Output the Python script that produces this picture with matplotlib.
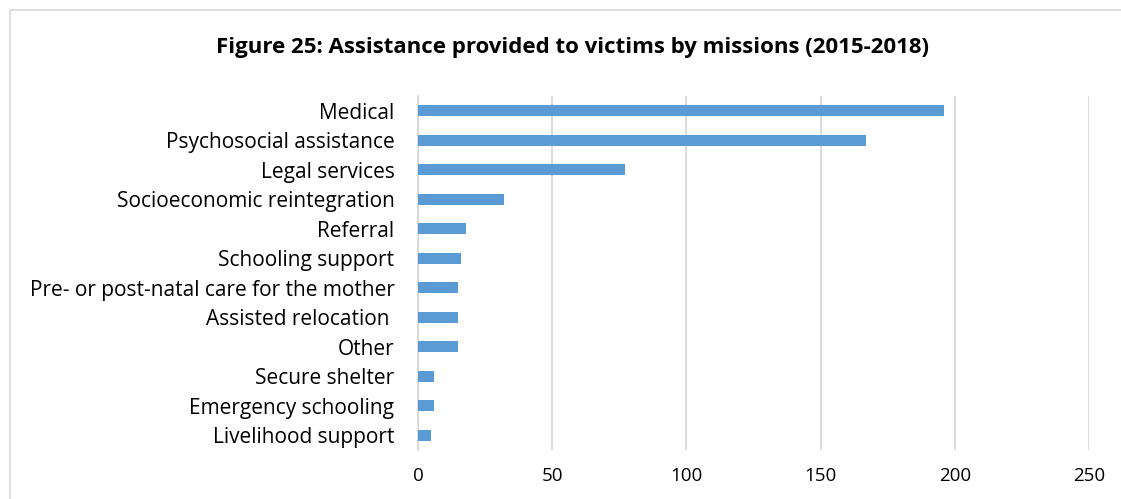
import matplotlib
matplotlib.use("Agg")
import matplotlib.pyplot as plt
from matplotlib.patches import Rectangle

categories = [
    "Medical",
    "Psychosocial assistance",
    "Legal services",
    "Socioeconomic reintegration",
    "Referral",
    "Schooling support",
    "Pre- or post-natal care for the mother",
    "Assisted relocation ",
    "Other",
    "Secure shelter",
    "Emergency schooling",
    "Livelihood support",
]
values = [196, 167, 77, 32, 18, 16, 15, 15, 15, 6, 6, 5]
xticks = [0, 50, 100, 150, 200, 250]
title = "Figure 25: Assistance provided to victims by missions (2015-2018)"

plt.rcParams['font.family'] = ['Open Sans', 'DejaVu Sans']

W, H = 1121, 499
fig = plt.figure(figsize=(W / 100, H / 100), dpi=100)
ax = fig.add_axes([418 / W, 1 - 450 / H, (1089 - 418) / W, (450 - 96) / H])

ypos = list(range(len(categories)))
ax.barh(ypos, values, height=0.36, color="#5B9BD5", zorder=3)
ax.set_ylim(len(categories) - 0.5, -0.5)
ax.set_xlim(0, 250)
ax.set_xticks(xticks)
ax.set_xticklabels([str(t) for t in xticks], fontsize=13.5)
ax.set_yticks(ypos)
ax.set_yticklabels(categories, fontsize=15)
ax.tick_params(axis='both', length=0, colors='#000000')
ax.tick_params(axis='x', pad=12)
ax.tick_params(axis='y', pad=17)
ax.grid(axis='x', color='#D9D9D9', linewidth=1.3, zorder=0)
for s in ['top', 'right', 'bottom']:
    ax.spines[s].set_visible(False)
ax.spines['left'].set_color('#D9D9D9')
ax.spines['left'].set_linewidth(1.3)
ax.spines['left'].set_zorder(1)

fig.text(572 / W, 1 - 47 / H, title, ha='center', va='center',
         fontsize=16, fontweight='bold')

fig.patches.append(Rectangle((9.5 / W, -0.1), 1.2, 1 - 10 / H + 0.1,
                             transform=fig.transFigure, fill=False,
                             edgecolor='#D9D9D9', linewidth=1.2))

fig.savefig("out.png", dpi=100)
